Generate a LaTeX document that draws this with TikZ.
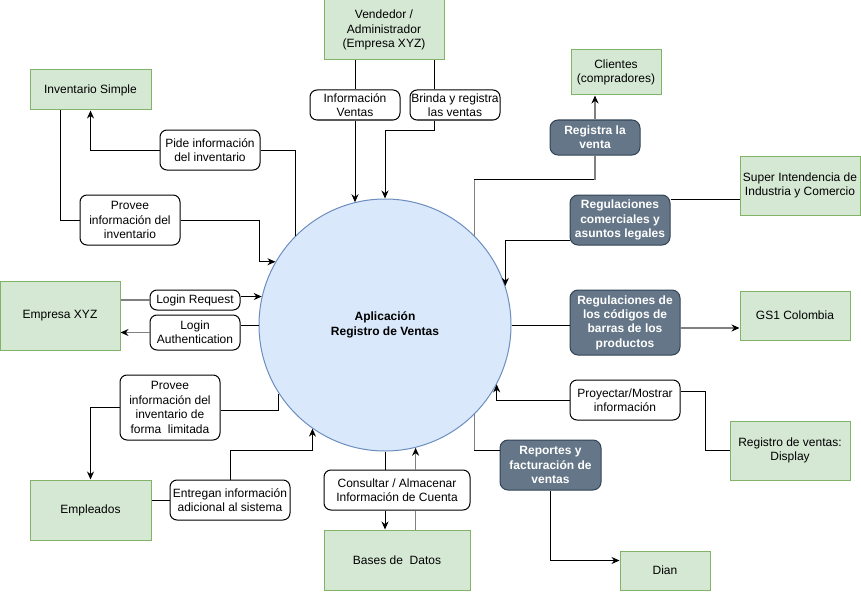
\documentclass[tikz,border=0pt]{standalone}
\usepackage{fontspec}
\setmainfont{Liberation Sans}
\usetikzlibrary{arrows.meta}
\definecolor{entfill}{HTML}{D5E8D4}
\definecolor{entdraw}{HTML}{82B366}
\definecolor{appfill}{HTML}{DAE8FC}
\definecolor{appdraw}{HTML}{6C8EBF}
\definecolor{regfill}{HTML}{647687}
\definecolor{regdraw}{HTML}{314354}
\definecolor{edgegray}{HTML}{808080}
\begin{document}
\begin{tikzpicture}[x=1pt,y=-1pt,line width=1pt,
  >={Stealth[length=8pt,width=7pt,color=black]},
  font=\fontsize{12}{14.4}\selectfont,
  dims/.style 2 args={minimum width=#1,minimum height=#2},
  ent/.style={draw=entdraw,fill=entfill,inner sep=0pt,align=center},
  lbl/.style={draw,fill=white,rounded corners=7pt,inner sep=0pt,align=center},
  reg/.style={draw=regdraw,fill=regfill,rounded corners=8pt,inner sep=0pt,
    align=center,text=white,font=\fontsize{12}{14.4}\selectfont\bfseries},
  edge/.style={draw=edgegray,line width=1.7pt}]
\useasboundingbox (0,0) rectangle (861,591);
% the application
\node[circle,draw=appdraw,fill=appfill,minimum size=252,align=center,
  font=\fontsize{12}{14.4}\selectfont\bfseries] (app) at (385,325)
  {Aplicación\\Registro de Ventas};
% external entities
\node[ent,dims={120}{60}] (vend) at (384,30) {Vendedor /\\Administrador\\(Empresa XYZ)};
\node[ent,dims={121}{40}] (inv) at (90.5,90) {Inventario Simple};
\node[ent,dims={90}{45}] (clientes) at (616,72.5) {Clientes\\(compradores)};
\node[ent,dims={120}{59}] (super) at (800,185.5) {Super Intendencia de\\Industria y Comercio};
\node[ent,dims={120}{69}] (empresa) at (60,315.5) {Empresa XYZ};
\node[ent,dims={110}{49}] (gs1) at (795,315.5) {GS1 Colombia};
\node[ent,dims={120}{59}] (display) at (790,450.5) {Registro de ventas:\\Display};
\node[ent,dims={121}{60}] (empleados) at (90.5,510) {Empleados};
\node[ent,dims={146}{60}] (bases) at (397,560) {Bases de~ Datos};
\node[ent,dims={90}{39}] (dian) at (665,570.5) {Dian};
% flows
\node[lbl,dims={100}{40}] (pide) at (210,150) {Pide información\\del inventario};
\node[lbl,dims={100}{50}] (provinv) at (130,220) {Provee\\información del\\inventario};
\node[lbl,dims={90}{30}] (infov) at (355,105) {Información\\Ventas};
\node[lbl,dims={90}{30}] (brinda) at (455,105) {Brinda y registra\\las ventas};
\node[lbl,dims={90}{20}] (lreq) at (195,300) {Login Request};
\node[lbl,dims={90}{35}] (lauth) at (195,332.5) {Login\\Authentication};
\node[lbl,dims={100}{65}] (provlim) at (170,407.5) {Provee\\información del\\inventario de\\forma~ limitada};
\node[lbl,dims={120}{40}] (entregan) at (230,500) {Entregan información\\adicional al sistema};
\node[lbl,dims={146}{40}] (consultar) at (397,490) {Consultar / Almacenar\\Información de Cuenta};
\node[lbl,dims={110}{40}] (proy) at (625,400) {Proyectar/Mostrar\\información};
% regulations
\node[reg,dims={90}{35}] (registra) at (595,137.5) {Registra la\\venta};
\node[reg,dims={100}{50}] (regcom) at (620,220) {Regulaciones\\comerciales y\\asuntos legales};
\node[reg,dims={110}{65}] (regbar) at (625,322.5) {Regulaciones de\\los códigos de\\barras de los\\productos};
\node[reg,dims={101}{50}] (reportes) at (550.5,465) {Reportes y\\facturación de\\ventas};
% connectors
\draw (app.135) |- (pide.east);
\draw[->] (pide.west) -| (inv.south);
\draw ([xshift=-30pt]inv.south) |- (provinv.west);
\draw[->] (provinv.east) -| ([xshift=-16pt]app.150) -- (app.150);
\draw (vend.south -| infov.north) -- (infov.north);
\draw[->] (infov.south) -- (infov.south |- app.104);
\draw ([xshift=50pt]vend.south) -- ([xshift=-21pt]brinda.north);
\draw[->] ([xshift=-21pt]brinda.south) -- ++(0,10) -| (app.north);
\coordinate (regup) at ([yshift=56pt]app.45);
\draw[edge] (app.45) -- (regup);
\draw (regup) -- (regup -| registra.south);
\draw[edge] (regup -| registra.south) -- (registra.south);
\draw[edge,->] (registra.north) -- (registra.north |- clientes.south);
\coordinate (supin) at ([yshift=21pt]regcom.east);
\draw (supin) -- (supin -| super.west);
\draw[->] ([yshift=-20pt]regcom.west) -| (app.18);
\draw (app.east) -- (app.east -| regbar.west);
\coordinate (gsin) at ([yshift=-5.5pt]regbar.east);
\draw[edge,->] (gsin) -- (gsin -| gs1.west);
\draw (display.west) -- ++(-24,0) |- ([yshift=9pt]proy.east);
\draw[->] (proy.west) -| (app.-28);
\coordinate (repin) at ([yshift=15pt]reportes.west);
\draw[edge] (app.-45) -- (app.-45 |- repin);
\draw (app.-45 |- repin) -- (repin);
\draw[->] (reportes.south) |- ([yshift=10pt]dian.west);
\draw[edge] (lreq.west -| empresa.east) -- (lreq.west);
\draw[->] (lreq.east |- app.167) -- (app.167);
\draw (app.west) -- (app.west -| lauth.east);
\draw[edge,->] (lauth.west) -- (lauth.west -| empresa.east);
\draw (app.213) |- ([yshift=-3pt]provlim.east);
\draw[->] (provlim.west) -| (empleados.north);
\draw (empleados.east |- entregan.west) -- (entregan.west);
\draw[->] (entregan.north) -- ++(0,-29) -| (app.-125);
\draw (app.south) -- (app.south |- consultar.north);
\draw[->] (app.south |- consultar.south) -- (app.south |- bases.north);
\draw[edge] (app.-76 |- bases.north) -- (app.-76 |- consultar.south);
\draw[edge,->] (app.-76 |- consultar.north) -- (app.-76);
\end{tikzpicture}
\end{document}
